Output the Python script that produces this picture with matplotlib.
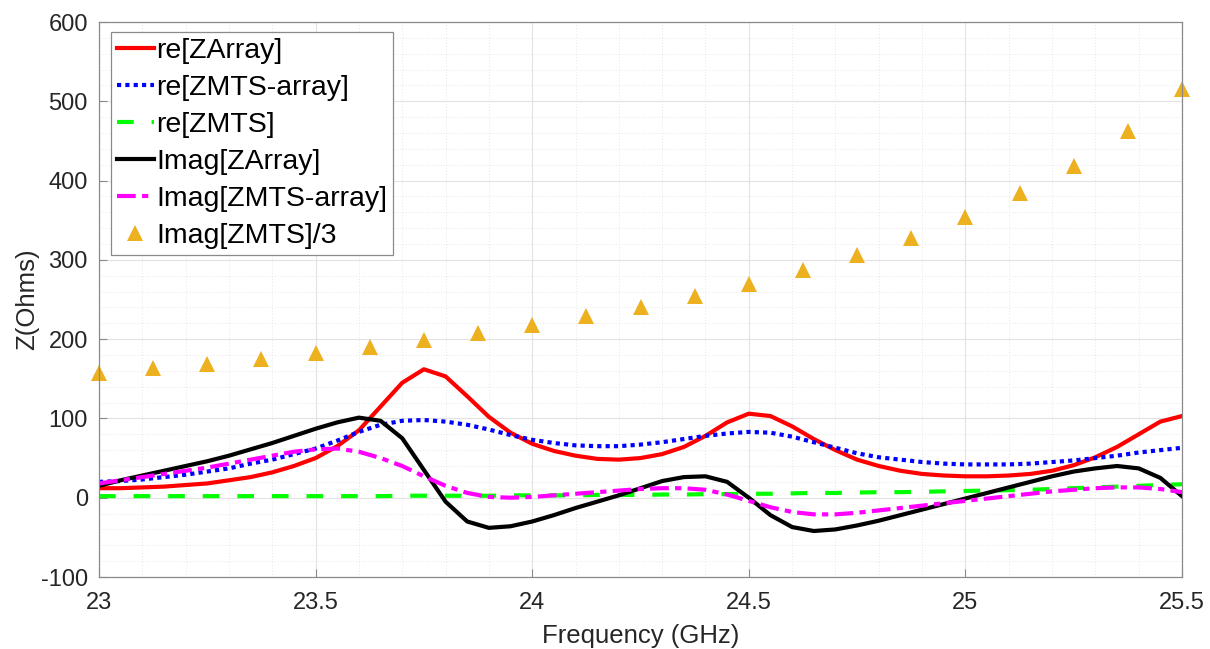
import numpy as np
from matplotlib import pyplot as plt
from matplotlib.ticker import MultipleLocator

plt.rcParams['font.family'] = ['Liberation Sans', 'DejaVu Sans']
plt.rcParams['axes.unicode_minus'] = False

# frequency grid of the simulated curves (GHz)
freq = np.linspace(23, 25.5, 51)

reZArray = [12, 12, 13, 14, 16, 18, 22, 26, 32, 40,
            50, 65, 85, 115, 145, 162, 153, 128, 102, 82,
            68, 59, 53, 49, 48, 50, 55, 64, 78, 95,
            106, 103, 90, 74, 60, 48, 40, 34, 30, 28,
            27, 27, 28, 30, 34, 41, 51, 64, 80, 96, 103]

reZMTSarray = [20, 21, 23, 26, 29, 33, 37, 43, 48, 55,
               62, 72, 83, 92, 97, 98, 96, 92, 86, 79,
               73, 69, 66, 65, 65, 67, 70, 74, 78, 81,
               83, 82, 77, 70, 63, 56, 51, 48, 45, 43,
               42, 42, 42, 43, 45, 47, 50, 53, 57, 60, 63]

reZMTS = [2, 2, 2, 2, 2, 2, 2, 2, 2, 2,
          2, 2, 2, 2, 2.5, 2.5, 2.5, 2.5, 2.5, 3,
          3, 3, 3, 3.5, 3.5, 3.5, 4, 4, 4.5, 4.5,
          5, 5, 5.5, 6, 6, 6.5, 7, 7, 7.5, 8,
          8.5, 9, 9.5, 10, 11, 12, 13, 14, 15, 16, 17]

imZArray = [15, 22, 28, 34, 40, 46, 53, 61, 69, 78,
            87, 95, 101, 97, 75, 35, -5, -30, -38, -36,
            -30, -22, -13, -5, 3, 12, 21, 26, 27, 20,
            0, -22, -37, -42, -40, -35, -29, -22, -15, -8,
            -1, 6, 13, 20, 27, 33, 37, 40, 37, 25, 2]

imZMTSarray = [18, 22, 26, 30, 34, 38, 43, 48, 53, 58,
               61, 62, 58, 50, 40, 27, 15, 6, 1, 0,
               1, 3, 5, 7, 9, 11, 12, 12, 10, 4,
               -4, -12, -18, -21, -21, -19, -16, -13, -10, -7,
               -4, -1, 2, 5, 8, 10, 12, 13, 13, 11, 7]

# Imag[ZMTS]/3 samples
freqMTS = np.linspace(23, 25.5, 21)
imZMTS3 = [157, 163, 169, 175, 182, 190, 199, 208, 218, 229,
           241, 255, 270, 287, 306, 328, 354, 384, 419, 462, 516]

fig = plt.figure(figsize=(12.1, 6.49), dpi=100)
ax = fig.add_axes([99 / 1210, 1 - 577 / 649, 1083 / 1210, 555 / 649])

lw = 3
ax.plot(freq, reZArray, color='#ff0000', lw=lw, label='re[ZArray]')
ax.plot(freq, reZMTSarray, color='#0000ff', lw=lw, dashes=(1, 1),
        dash_capstyle='butt', label='re[ZMTS-array]')
ax.plot(freq, reZMTS, color='#00ff00', lw=lw, dashes=(4, 4.3), label='re[ZMTS]')
ax.plot(freq, imZArray, color='black', lw=lw, label='Imag[ZArray]')
ax.plot(freq, imZMTSarray, color='#ff00ff', lw=lw, dashes=(4.5, 1.5, 1.5, 1.5),
        label='Imag[ZMTS-array]')
ax.plot(freqMTS, imZMTS3, linestyle='none', marker='^', markersize=11,
        color='#edb120', markeredgewidth=0, label='Imag[ZMTS]/3', clip_on=False)

ax.set_xlim(23, 25.5)
ax.set_ylim(-100, 600)
ax.set_xticks([23, 23.5, 24, 24.5, 25, 25.5])
ax.set_xticklabels(['23', '23.5', '24', '24.5', '25', '25.5'])
ax.set_yticks(np.arange(-100, 601, 100))
ax.xaxis.set_minor_locator(MultipleLocator(0.1))
ax.yaxis.set_minor_locator(MultipleLocator(20))

ax.grid(which='major', color='#e2e2e2', lw=0.8)
ax.grid(which='minor', color='#e6e6e6', lw=0.7, linestyle=(0, (1, 2)))
ax.set_axisbelow(True)
ax.tick_params(which='major', direction='in', length=6, width=0.8, color='#8a8a8a',
               labelsize=17, labelcolor='#262626')
ax.tick_params(axis='x', which='major', pad=11)
ax.tick_params(axis='y', which='major', pad=8)
ax.tick_params(which='minor', length=0)
for s in ax.spines.values():
    s.set_color('#8a8a8a')
    s.set_linewidth(0.9)

ax.set_xlabel('Frequency (GHz)', fontsize=18.5, color='#262626', labelpad=7)
ax.set_ylabel('Z(Ohms)', fontsize=18.5, color='#262626', labelpad=1)

leg = ax.legend(loc='upper left', bbox_to_anchor=(12 / 1083, 1 - 10 / 555),
                borderaxespad=0, fontsize=20.5, frameon=True, fancybox=False,
                edgecolor='#8a8a8a', framealpha=1, handlelength=1.3,
                handletextpad=0.1, labelspacing=0.39, borderpad=0.2)
leg.get_frame().set_linewidth(0.9)

plt.savefig('out.png', dpi=100)
